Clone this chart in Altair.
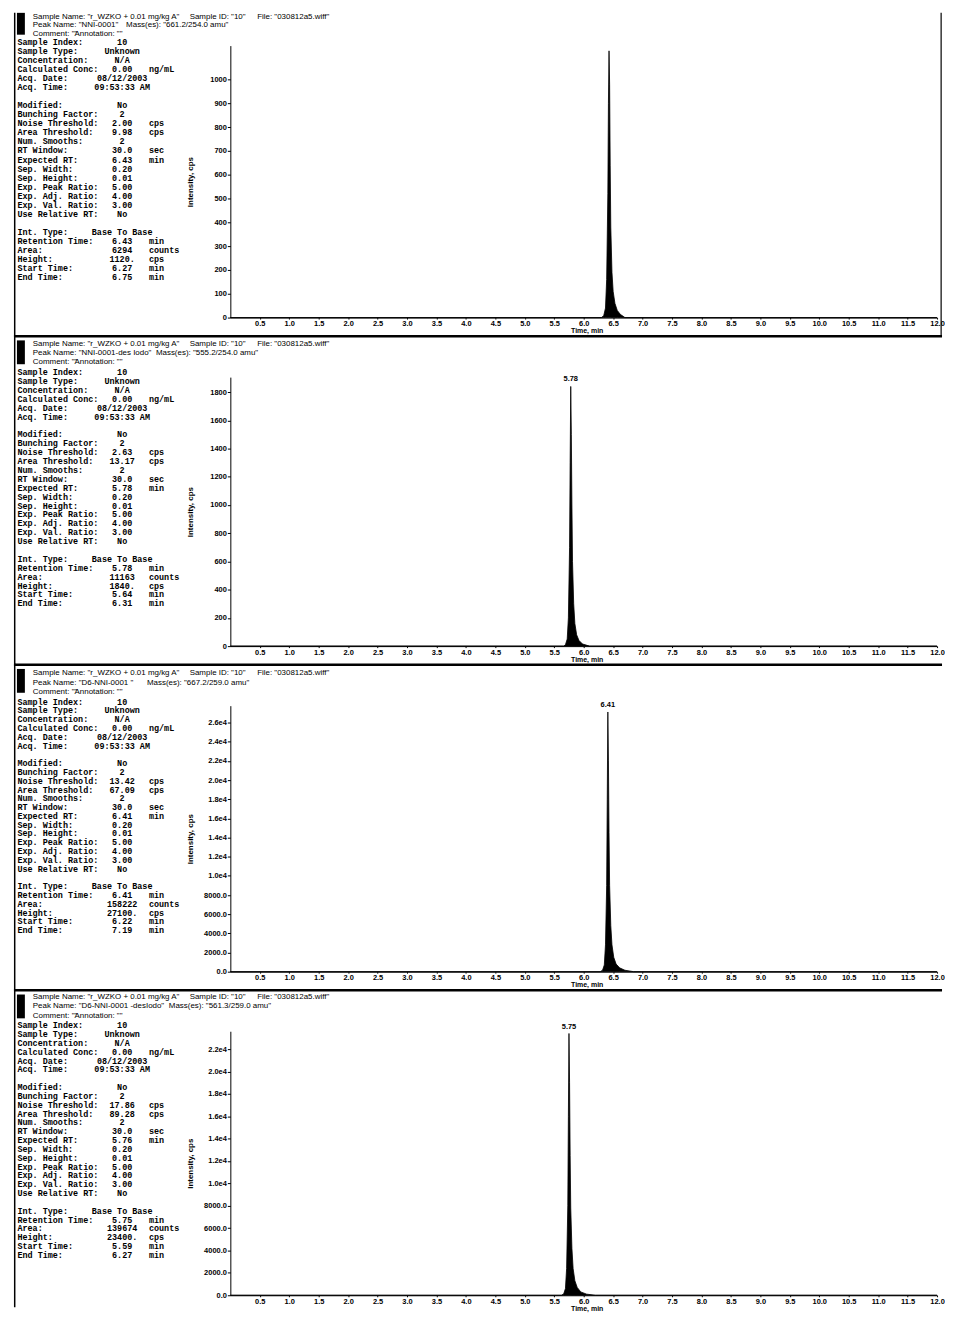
import altair as alt
import pandas as pd

# ---------------- data ----------------
x_ticks = [0.5, 1.0, 1.5, 2.0, 2.5, 3.0, 3.5, 4.0, 4.5, 5.0, 5.5, 6.0,
           6.5, 7.0, 7.5, 8.0, 8.5, 9.0, 9.5, 10.0, 10.5, 11.0, 11.5, 12.0]

p1_time = [0.0, 6.30, 6.34, 6.37, 6.39, 6.41, 6.42, 6.43, 6.44, 6.45, 6.46, 6.48, 6.50, 6.53, 6.57, 6.62, 6.70, 12.0]
p1_int = [0, 0, 8, 40, 160, 520, 900, 1120, 980, 640, 380, 190, 110, 60, 30, 14, 0, 0]

p2_time = [0.0, 5.66, 5.69, 5.72, 5.74, 5.76, 5.77, 5.78, 5.79, 5.80, 5.81, 5.83, 5.85, 5.88, 5.92, 5.98, 6.10, 12.0]
p2_int = [0, 0, 10, 50, 200, 700, 1300, 1840, 1500, 1000, 600, 300, 160, 80, 40, 15, 0, 0]

p3_time = [0.0, 6.28, 6.32, 6.35, 6.37, 6.39, 6.40, 6.41, 6.42, 6.43, 6.44, 6.46, 6.48, 6.51, 6.55, 6.61, 6.70, 6.85, 12.0]
p3_int = [0, 0, 150, 700, 2800, 9000, 18000, 27100, 22000, 14500, 9000, 4800, 2800, 1500, 800, 400, 150, 0, 0]

p4_time = [0.0, 5.62, 5.66, 5.69, 5.71, 5.73, 5.74, 5.75, 5.76, 5.77, 5.78, 5.80, 5.82, 5.85, 5.89, 5.95, 6.05, 6.20, 12.0]
p4_int = [0, 0, 120, 600, 2400, 8000, 16000, 23400, 19000, 12500, 7800, 4200, 2400, 1300, 700, 300, 100, 0, 0]

y_ticks_1 = [0, 100, 200, 300, 400, 500, 600, 700, 800, 900, 1000]
y_ticks_2 = [0, 200, 400, 600, 800, 1000, 1200, 1400, 1600, 1800]
y_ticks_3 = [0, 2000, 4000, 6000, 8000, 10000, 12000, 14000, 16000, 18000, 20000, 22000, 24000, 26000]
y_ticks_4 = [0, 2000, 4000, 6000, 8000, 10000, 12000, 14000, 16000, 18000, 20000, 22000]

field_labels = ["Sample Index:", "Sample Type:", "Concentration:", "Calculated Conc:",
                "Acq. Date:", "Acq. Time:", "", "Modified:", "Bunching Factor:",
                "Noise Threshold:", "Area Threshold:", "Num. Smooths:", "RT Window:",
                "Expected RT:", "Sep. Width:", "Sep. Height:", "Exp. Peak Ratio:",
                "Exp. Adj. Ratio:", "Exp. Val. Ratio:", "Use Relative RT:", "",
                "Int. Type:", "Retention Time:", "Area:", "Height:", "Start Time:", "End Time:"]
field_units = ["", "", "", "ng/mL", "", "", "", "", "", "cps", "cps", "", "sec", "min",
               "", "", "", "", "", "", "", "", "min", "counts", "cps", "min", "min"]

p1_values = ["10", "Unknown", "N/A", "0.00", "08/12/2003", "09:53:33 AM", "", "No", "2",
             "2.00", "9.98", "2", "30.0", "6.43", "0.20", "0.01", "5.00", "4.00", "3.00", "No",
             "", "Base To Base", "6.43", "6294", "1120.", "6.27", "6.75"]
p2_values = ["10", "Unknown", "N/A", "0.00", "08/12/2003", "09:53:33 AM", "", "No", "2",
             "2.63", "13.17", "2", "30.0", "5.78", "0.20", "0.01", "5.00", "4.00", "3.00", "No",
             "", "Base To Base", "5.78", "11163", "1840.", "5.64", "6.31"]
p3_values = ["10", "Unknown", "N/A", "0.00", "08/12/2003", "09:53:33 AM", "", "No", "2",
             "13.42", "67.09", "2", "30.0", "6.41", "0.20", "0.01", "5.00", "4.00", "3.00", "No",
             "", "Base To Base", "6.41", "158222", "27100.", "6.22", "7.19"]
p4_values = ["10", "Unknown", "N/A", "0.00", "08/12/2003", "09:53:33 AM", "", "No", "2",
             "17.86", "89.28", "2", "30.0", "5.76", "0.20", "0.01", "5.00", "4.00", "3.00", "No",
             "", "Base To Base", "5.75", "139674", "23400.", "5.59", "6.27"]

sample_name = 'Sample Name: "r_WZKO + 0.01 mg/kg A"'
sample_id = 'Sample ID: "10"'
file_name = 'File: "030812a5.wiff"'
comment = 'Comment: ""'
annotation = 'Annotation: ""'
peak_names = ['Peak Name: "NNI-0001"', 'Peak Name: "NNI-0001-des Iodo"',
              'Peak Name: "D6-NNI-0001 "', 'Peak Name: "D6-NNI-0001 -desIodo"']
masses = ['Mass(es): "661.2/254.0 amu"', 'Mass(es): "555.2/254.0 amu"',
          'Mass(es): "667.2/259.0 amu"', 'Mass(es): "561.3/259.0 amu"']
peak_rt = [6.43, 5.78, 6.41, 5.75]
peak_height = [1120, 1840, 27100, 23400]
peak_labels = ["", "5.78", "6.41", "5.75"]

# ---------------- layout / style ----------------
W = 712
SANS = "Liberation Sans"
MONO = "Liberation Mono"
E4 = ("datum.value >= 10000 ? format(datum.value / 10000, '.1f') + 'e4' "
      ": format(datum.value, '.1f')")

panels = [
    dict(time=p1_time, inten=p1_int, yt=y_ticks_1, H=274, dmax=1142, vals=p1_values,
         e4=False, first=True, hdr=[-29, -20.5, -12], bar=(-33, -11), rows=(-3.5, 9.1),
         mass_x=-105),
    dict(time=p2_time, inten=p2_int, yt=y_ticks_2, H=271, dmax=1906, vals=p2_values,
         e4=False, first=False, hdr=[-33, -24, -15], bar=(-37, -13), rows=(-5, 8.96),
         mass_x=-75),
    dict(time=p3_time, inten=p3_int, yt=y_ticks_3, H=268, dmax=27760, vals=p3_values,
         e4=True, first=False, hdr=[-33, -23, -14], bar=(-37, -13), rows=(-4, 8.85),
         mass_x=-84),
    dict(time=p4_time, inten=p4_int, yt=y_ticks_4, H=266, dmax=23600, vals=p4_values,
         e4=True, first=False, hdr=[-34, -25, -15], bar=(-37, -13), rows=(-6, 8.9),
         mass_x=-62),
]


def one():
    return alt.Data(values=[{"a": 0}])


def text_layer(s, x, y, font=SANS, size=8.0, weight="normal", align="left",
               baseline="middle"):
    return alt.Chart(alt.Data(values=[{"s": s}])).mark_text(
        font=font, fontSize=size, fontWeight=weight, align=align,
        baseline=baseline, color="black").encode(
        x=alt.value(x), y=alt.value(y), text=alt.Text("s:N"))


def column_layer(items, x, r0, lh, align="left"):
    rows = [{"row": i, "s": s} for i, s in enumerate(items) if s]
    return alt.Chart(alt.Data(values=rows)).transform_calculate(
        py=f"{r0} + datum.row * {lh}"
    ).mark_text(font=MONO, fontSize=8.5, fontWeight="bold", align=align,
                baseline="middle", color="black").encode(
        x=alt.value(x), y=alt.Y("py:Q", scale=None), text=alt.Text("s:N"))


def box(x1, x2, y1, y2):
    return alt.Chart(one()).mark_rect(color="black").encode(
        x=alt.value(x1), x2=alt.value(x2), y=alt.value(y1), y2=alt.value(y2))


charts = []
for k, p in enumerate(panels):
    H = p["H"]
    yaxis_kw = dict(values=p["yt"], title="Intensity, cps", titleFont=SANS, titleFontSize=8,
                    titleFontWeight="bold", titleX=-40, titleY=H / 2, titleAngle=270,
                    titleAlign="center", titleBaseline="middle",
                    labelFont=SANS, labelFontSize=7.5, labelFontWeight="bold",
                    tickSize=3, labelPadding=1, grid=False, domainColor="black",
                    tickColor="black", labelColor="black", titleColor="black")
    if p["e4"]:
        yaxis_kw["labelExpr"] = E4
    else:
        yaxis_kw["format"] = "d"
    xenc = alt.X("t:Q", scale=alt.Scale(domain=[0, 12], nice=False, zero=False),
                 axis=alt.Axis(values=x_ticks, format=".1f", title="Time, min",
                               titleFont=SANS, titleFontSize=7, titleFontWeight="bold",
                               titleX=359, titleY=9, titleAlign="center",
                               titleBaseline="top", labelFont=SANS, labelFontSize=7.5,
                               labelFontWeight="bold", tickSize=1.5, labelPadding=0.5,
                               labelOverlap=False, labelFlush=False, grid=False,
                               domainColor="black", tickColor="black",
                               labelColor="black", titleColor="black"))
    yenc = alt.Y("i:Q", scale=alt.Scale(domain=[0, p["dmax"]], nice=False),
                 axis=alt.Axis(**yaxis_kw))

    df = pd.DataFrame({"t": p["time"], "i": p["inten"]})
    area = alt.Chart(df).mark_area(color="black", stroke="black", strokeWidth=0.8,
                                   interpolate="linear").encode(x=xenc, y=yenc)
    layers = [area]

    if peak_labels[k]:
        lab = alt.Chart(alt.Data(values=[{"t": peak_rt[k], "i": peak_height[k],
                                          "lab": peak_labels[k]}])).mark_text(
            font=SANS, fontSize=7.5, fontWeight="bold", baseline="bottom", dy=-3,
            color="black").encode(x=xenc, y=yenc, text="lab:N")
        layers.append(lab)

    top = -33 if p["first"] else -42.5
    bottom = H + 12 if k == 3 else H + 18
    # frame and separator (drawn as thin boxes so their bounds are exact)
    layers.append(box(-218, -216.5, top, bottom))
    if not p["first"]:
        layers.append(box(-218, 717, -42.5, -40))
    else:
        layers.append(box(715.5, 716.7, top, bottom))
    # black header bar
    layers.append(box(-215, -207, p["bar"][0], p["bar"][1]))
    # header
    h1, h2, h3 = p["hdr"]
    layers += [
        text_layer(sample_name, -199, h1),
        text_layer(sample_id, -41, h1),
        text_layer(file_name, 27, h1),
        text_layer(peak_names[k], -199, h2),
        text_layer(masses[k], p["mass_x"], h2),
        text_layer(comment, -199, h3),
        text_layer(annotation, -157, h3),
    ]
    # parameter block
    r0, lh = p["rows"]
    layers += [
        column_layer(field_labels, -214.5, r0, lh),
        column_layer(p["vals"], -109, r0, lh, align="center"),
        column_layer(field_units, -82, r0, lh),
    ]
    charts.append(alt.layer(*layers).properties(width=W, height=H))

chart = alt.vconcat(*charts, spacing=60, bounds="flush").properties(
    padding={"left": 6, "top": 0, "right": 0, "bottom": 0},
    background="white",
).configure_view(stroke=None)

chart.save("out.html", embed_options={"renderer": "svg", "actions": False})
